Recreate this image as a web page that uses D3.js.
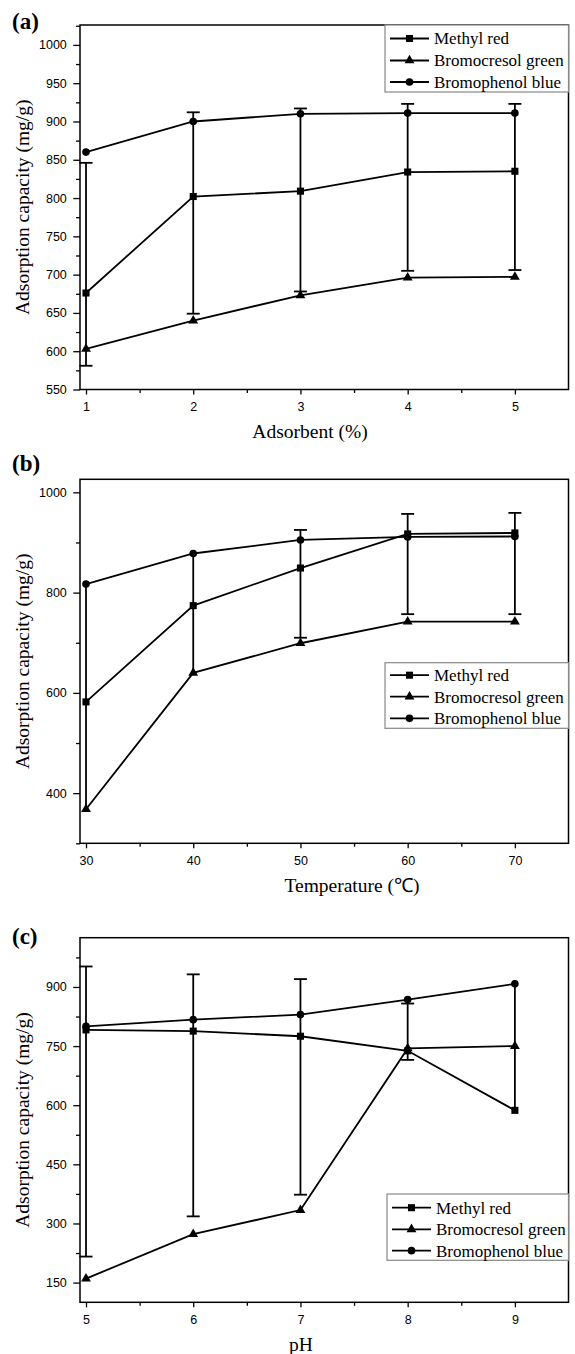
<!DOCTYPE html>
<html>
<head>
<meta charset="utf-8">
<script src="https://cdn.jsdelivr.net/npm/d3@7"></script>
<style>
  html, body { margin: 0; padding: 0; background: #fff; }
  svg { display: block; }
</style>
</head>
<body>
<svg id="chart" width="575" height="1354"></svg>
<script>
// ---- Data: adsorption capacity (mg/g) of three dyes ----
const seriesNames = ["Methyl red", "Bromocresol green", "Bromophenol blue"];

// (a) effect of adsorbent dose
const xA = [1, 2, 3, 4, 5];
const methylRedA = [676, 802, 809, 834, 835];
const bromocresolGreenA = [603, 640, 673, 696, 697];
const bromophenolBlueA = [860, 900, 910, 911, 911];
const errLowA = [581, 649, 678, 705, 706];
const errHighA = [846, 912, 917, 923, 923];
const errCapA = [true, true, true, true, true];
const yTicksA = [550, 600, 650, 700, 750, 800, 850, 900, 950, 1000];

// (b) effect of temperature
const xB = [30, 40, 50, 60, 70];
const methylRedB = [582, 774, 849, 917, 919];
const bromocresolGreenB = [368, 640, 699, 742, 742];
const bromophenolBlueB = [817, 878, 905, 911, 912];
const errLowB = [368, 640, 710, 757, 757];
const errHighB = [817, 878, 925, 957, 959];
const errCapB = [false, false, true, true, true];
const yTicksB = [400, 600, 800, 1000];

// (c) effect of pH
const xC = [5, 6, 7, 8, 9];
const methylRedC = [791, 788, 775, 738, 587];
const bromocresolGreenC = [160, 273, 334, 744, 750];
const bromophenolBlueC = [800, 817, 830, 868, 908];
const errLowC = [216, 318, 373, 715, 587];
const errHighC = [952, 932, 920, 858, 908];
const errCapC = [true, true, true, true, false];
const yTicksC = [150, 300, 450, 600, 750, 900];

// ---- Panel layout ----
const panels = [
  {
    tag: "(a)", xTitle: "Adsorbent (%)", x: xA,
    series: [methylRedA, bromocresolGreenA, bromophenolBlueA],
    errLow: errLowA, errHigh: errHighA, errCap: errCapA,
    xDomain: [0.944, 5.5], yDomain: [550, 1026], yTicks: yTicksA, yMinorStep: 25,
    top: 25, bottom: 389.5, tagY: 29, titleX: 310,
    legend: { x: 385, y: 25, h: 67, rows: [13.5, 35.5, 57] }
  },
  {
    tag: "(b)", xTitle: "Temperature (\u2103)", x: xB,
    series: [methylRedB, bromocresolGreenB, bromophenolBlueB],
    errLow: errLowB, errHigh: errHighB, errCap: errCapB,
    xDomain: [29.44, 75], yDomain: [300, 1026], yTicks: yTicksB, yMinorStep: 100,
    top: 479.3, bottom: 843.3, tagY: 471, titleX: 352,
    legend: { x: 385, y: 662.7, h: 65.6, rows: [12.5, 34, 55.6] }
  },
  {
    tag: "(c)", xTitle: "pH", x: xC,
    series: [methylRedC, bromocresolGreenC, bromophenolBlueC],
    errLow: errLowC, errHigh: errHighC, errCap: errCapC,
    xDomain: [4.944, 9.5], yDomain: [100, 1025], yTicks: yTicksC, yMinorStep: 75,
    top: 937.7, bottom: 1302.3, tagY: 944, titleX: 301,
    legend: { x: 387, y: 1194, h: 66.3, rows: [13.7, 35.3, 56.7] }
  }
];

const LEFT = 80, RIGHT = 568.5;
const serif = "'Liberation Serif', 'Times New Roman', serif";
const sans = "'Liberation Sans', Arial, sans-serif";
const intFormat = d3.format("d");

const symbols = [
  d3.symbol().type(d3.symbolSquare).size(50),
  d3.symbol().type(d3.symbolTriangle).size(42),
  d3.symbol().type(d3.symbolCircle).size(46)
];

const svg = d3.select("#chart");

panels.forEach(p => {
  const g = svg.append("g");
  const x = d3.scaleLinear().domain(p.xDomain).range([LEFT, RIGHT]);
  const y = d3.scaleLinear().domain(p.yDomain).range([p.bottom, p.top]);

  // minor ticks
  const yMinor = d3.range(Math.ceil(p.yDomain[0] / p.yMinorStep) * p.yMinorStep,
                          p.yDomain[1] + 0.001, p.yMinorStep)
    .filter(v => !p.yTicks.includes(v));
  const step = p.x[1] - p.x[0];
  const xMinor = p.x.map(v => v + step / 2).filter(v => v < p.xDomain[1]);

  g.append("g")
    .attr("transform", `translate(${LEFT},0)`)
    .call(d3.axisLeft(y).tickValues(yMinor).tickSize(4).tickFormat("").tickSizeOuter(0))
    .call(a => a.select(".domain").remove())
    .call(a => a.selectAll("line").attr("stroke", "#000").attr("stroke-width", 1.3));

  g.append("g")
    .attr("transform", `translate(${LEFT},0)`)
    .call(d3.axisLeft(y).tickValues(p.yTicks).tickFormat(intFormat)
      .tickSize(6.7).tickPadding(6.5).tickSizeOuter(0))
    .call(a => a.select(".domain").remove())
    .call(a => a.selectAll("line").attr("stroke", "#000").attr("stroke-width", 1.3))
    .call(a => a.selectAll("text").attr("font-family", sans).attr("font-size", 12.5).attr("fill", "#000"));

  g.append("g")
    .attr("transform", `translate(0,${p.bottom})`)
    .call(d3.axisBottom(x).tickValues(xMinor).tickSize(3.5).tickFormat("").tickSizeOuter(0))
    .call(a => a.select(".domain").remove())
    .call(a => a.selectAll("line").attr("stroke", "#000").attr("stroke-width", 1.3));

  g.append("g")
    .attr("transform", `translate(0,${p.bottom})`)
    .call(d3.axisBottom(x).tickValues(p.x).tickFormat(intFormat)
      .tickSize(5).tickPadding(8).tickSizeOuter(0))
    .call(a => a.select(".domain").remove())
    .call(a => a.selectAll("line").attr("stroke", "#000").attr("stroke-width", 1.3))
    .call(a => a.selectAll("text").attr("font-family", sans).attr("font-size", 12.5).attr("fill", "#000"));

  // plot frame
  g.append("rect")
    .attr("x", LEFT).attr("y", p.top)
    .attr("width", RIGHT - LEFT).attr("height", p.bottom - p.top)
    .attr("fill", "none").attr("stroke", "#000").attr("stroke-width", 1.5);

  // error bars
  const eb = g.append("g").attr("stroke", "#000").attr("stroke-width", 1.8);
  p.x.forEach((xv, i) => {
    const cx = x(xv);
    eb.append("line").attr("x1", cx).attr("x2", cx)
      .attr("y1", y(p.errLow[i])).attr("y2", y(p.errHigh[i]));
    if (p.errCap[i]) {
      [p.errLow[i], p.errHigh[i]].forEach(v => {
        eb.append("line").attr("x1", cx - 6.5).attr("x2", cx + 6.5)
          .attr("y1", y(v)).attr("y2", y(v));
      });
    }
  });

  // series lines and markers
  const line = d3.line().x((d, i) => x(p.x[i])).y(d => y(d));
  p.series.forEach((vals, s) => {
    g.append("path").datum(vals)
      .attr("d", line).attr("fill", "none")
      .attr("stroke", "#000").attr("stroke-width", 1.8);
    g.append("g").selectAll("path").data(vals).join("path")
      .attr("d", symbols[s])
      .attr("transform", (d, i) => `translate(${x(p.x[i])},${y(d)})`)
      .attr("fill", "#000");
  });

  // legend
  const L = p.legend;
  const lg = g.append("g").attr("transform", `translate(${L.x},${L.y})`);
  lg.append("rect").attr("width", RIGHT - L.x).attr("height", L.h)
    .attr("fill", "#fff").attr("stroke", "#888").attr("stroke-width", 1.2);
  seriesNames.forEach((name, s) => {
    const ry = L.rows[s];
    lg.append("line").attr("x1", 5).attr("x2", 44).attr("y1", ry).attr("y2", ry)
      .attr("stroke", "#000").attr("stroke-width", 1.8);
    lg.append("path").attr("d", symbols[s]).attr("transform", `translate(24.5,${ry})`).attr("fill", "#000");
    lg.append("text").attr("x", 49).attr("y", ry).attr("dy", "0.35em")
      .attr("font-family", serif).attr("font-size", 17).text(name);
  });

  // titles
  g.append("text").attr("x", 12).attr("y", p.tagY)
    .attr("font-family", serif).attr("font-weight", "bold").attr("font-size", 23)
    .text(p.tag);
  g.append("text").attr("x", p.titleX).attr("y", p.bottom + 48.5)
    .attr("text-anchor", "middle").attr("font-family", serif).attr("font-size", 19.5)
    .text(p.xTitle);
  g.append("text")
    .attr("transform", `translate(29,${(p.top + p.bottom) / 2}) rotate(-90)`)
    .attr("text-anchor", "middle").attr("font-family", serif).attr("font-size", 19.5)
    .text("Adsorption capacity (mg/g)");
});
</script>
</body>
</html>
